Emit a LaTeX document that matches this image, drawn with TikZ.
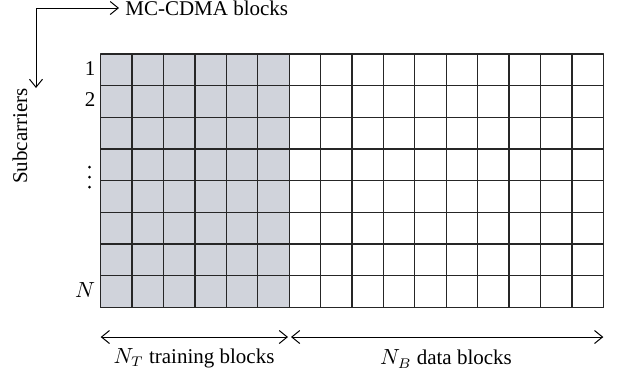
\documentclass[tikz,border=0pt]{standalone}
\usepackage{fontspec}
\setmainfont{Liberation Serif}
\usetikzlibrary{arrows.meta}
\definecolor{pilotgray}{RGB}{208,211,219}

\begin{document}
\begin{tikzpicture}[x=0.5pt, y=-0.5pt, line cap=round, line join=round,
    >={Straight Barb[length=4pt,width=6.5pt]}, font=\fontsize{10.5}{12}\selectfont,
    cell/.style={line width=0.65pt, draw=black!85}, span/.style={<->, line width=0.5pt}]
  \useasboundingbox (0,0) rectangle (621,377);

  % training part shaded, then the grid of blocks x subcarriers
  \fill[pilotgray] (100.7,54) rectangle (289.2,307.3);
  \foreach \c in {0,...,16}
    \draw[cell] ({100.7+31.41*\c},54) -- ({100.7+31.41*\c},307.3);
  \foreach \r in {0,...,8}
    \draw[cell] (100.7,{54+31.66*\r}) -- (603.3,{54+31.66*\r});

  % subcarrier indices
  \node (row1) at (90,69) {1};
  \node (row2) at (90,100) {2};
  \foreach \y in {167,177,187}
    \fill (89.5,\y) circle (1.5);
  \node (rowN) at (85,290) {$N$};

  % axes
  \node[anchor=west, inner sep=3pt] (blocks) at (119,8) {MC-CDMA blocks};
  \coordinate (subtip) at (36,88);
  \draw[span] (blocks.west) -| (subtip);
  \node[rotate=90] (subc) at (20,136) {Subcarriers};

  % training / data spans
  \coordinate (tl) at (100.7,337);
  \coordinate (tr) at (288,337);
  \coordinate (dl) at (291,337);
  \coordinate (dr) at (603.3,337);
  \draw[span] (tl) -- (tr);
  \draw[span] (dl) -- (dr);
  \node (train) at (194,358) {$N_T$ training blocks};
  \node (data) at (446,359) {$N_B$ data blocks};
\end{tikzpicture}
\end{document}
